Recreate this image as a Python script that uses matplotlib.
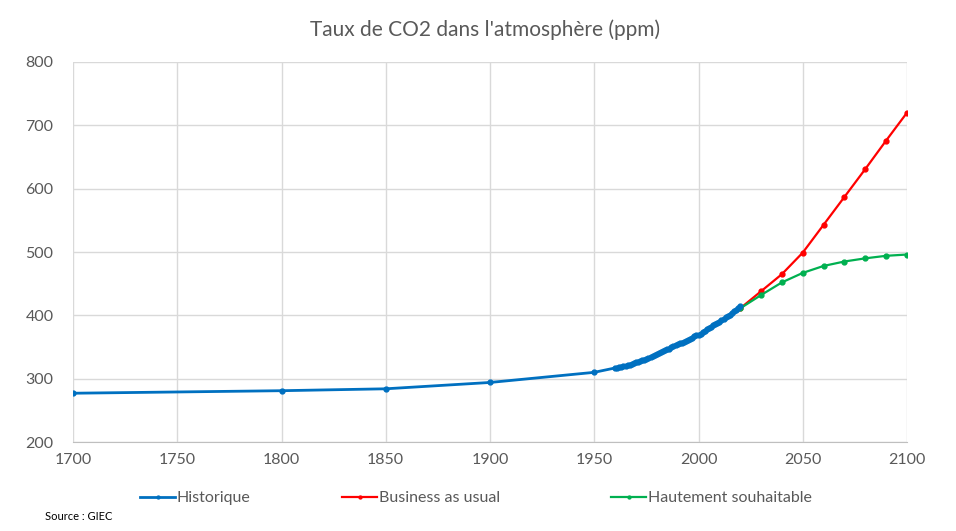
import matplotlib
matplotlib.use("Agg")
import matplotlib.pyplot as plt

# Historical data
hist_years = [1700, 1800, 1850, 1900, 1950] + list(range(1960, 2021))
hist_ppm = [277, 281, 284, 294, 310,
            316.9, 317.6, 318.5, 319.0, 319.6, 320.0, 321.4, 322.2, 323.1, 324.6,
            325.7, 326.3, 327.5, 329.7, 330.2, 331.1, 332.0, 333.8, 335.4, 336.8,
            338.8, 340.1, 341.5, 343.2, 344.9, 346.4, 347.6, 349.3, 351.7, 353.2,
            354.5, 355.7, 356.5, 357.2, 359.0, 361.0, 362.7, 363.9, 366.8, 368.5,
            369.7, 371.3, 373.5, 376.0, 377.7, 380.0, 382.1, 384.0, 385.8, 387.6,
            390.1, 391.9, 394.1, 396.7, 398.8, 401.0, 404.4, 406.8, 408.7, 411.7,
            414.2]

proj_years = [2020, 2030, 2040, 2050, 2060, 2070, 2080, 2090, 2100]
bau_ppm = [411, 438, 465, 499, 543, 587, 631, 676, 720]
souhait_ppm = [411, 432, 452, 467, 478, 485, 490, 494, 496]

labels = ["Historique", "Business as usual", "Hautement souhaitable"]
colors = ["#0070c0", "#ff0000", "#00b050"]

plt.rcParams['font.family'] = ['Lato', 'DejaVu Sans']

fig = plt.figure(figsize=(9.56, 5.31), dpi=100)
ax = fig.add_axes([73/956, 1-442/531, (907-73)/956, (442-62)/531])

h1, = ax.plot(hist_years, hist_ppm, color=colors[0], lw=2, marker='o', ms=3.5, label=labels[0], zorder=3)
h2, = ax.plot(proj_years, bau_ppm, color=colors[1], lw=1.6, marker='o', ms=3.5, label=labels[1], zorder=2)
h3, = ax.plot(proj_years, souhait_ppm, color=colors[2], lw=1.6, marker='o', ms=3.5, label=labels[2], zorder=2)

ax.set_xlim(1700, 2100)
ax.set_ylim(200, 800)
ax.set_xticks(range(1700, 2101, 50))
ax.set_yticks(range(200, 801, 100))
ax.grid(True, color='#d9d9d9', lw=1)
ax.set_axisbelow(True)
for s in ['top', 'right', 'left']:
    ax.spines[s].set_visible(False)
ax.spines['bottom'].set_color('#bfbfbf')
ax.tick_params(axis='both', length=0, colors='#595959', labelsize=11.5)
ax.tick_params(axis='y', pad=14)
ax.tick_params(axis='x', pad=8)

fig.text(485/956, 1-30/531, "Taux de CO2 dans l'atmosphère (ppm)", ha='center', va='center',
         fontsize=15, color='#595959')

for h, lab, x0 in zip([h1, h2, h3], labels, [140, 342, 611]):
    leg = fig.legend([h], [lab], loc='center left', bbox_to_anchor=(x0/956, 1-498/531),
                     frameon=False, fontsize=11.5, handlelength=2.2, handletextpad=0.1,
                     borderpad=0, borderaxespad=0, markerscale=0.6)
    for t in leg.get_texts():
        t.set_color('#595959')

fig.text(45/956, 1-516/531, "Source : GIEC", fontsize=8, color='black', va='center')

fig.savefig("out.png", dpi=100)
